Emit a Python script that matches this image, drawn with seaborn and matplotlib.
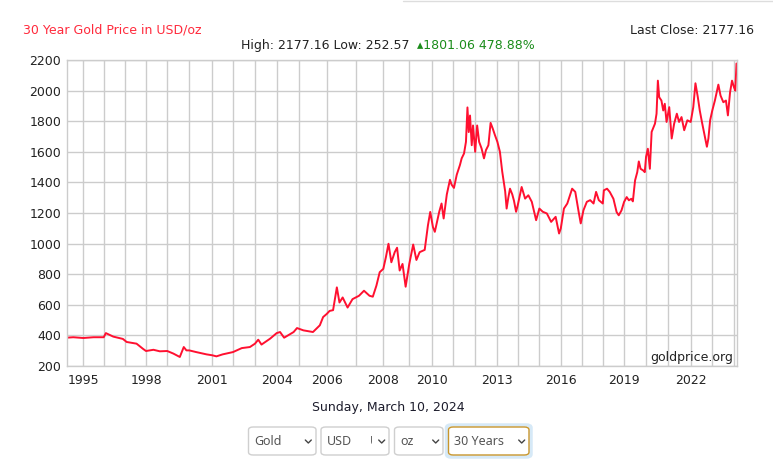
#!/usr/bin/env python3
"""30 year gold price chart (goldprice.org style)."""

import matplotlib
matplotlib.use("Agg")
import matplotlib.pyplot as plt
from matplotlib.lines import Line2D
from matplotlib.patches import FancyBboxPatch, Rectangle
import numpy as np
import pandas as pd
import seaborn as sns

# ---- data ----
first_year = 1994
start_date = 1994.19   # Mar 10 1994
end_date = 2024.19     # Mar 10 2024

# observations per calendar year in the source feed (sets the x spacing)
points_per_year = [197, 242, 252, 249, 252, 261, 273, 245, 261, 257,
                   268, 325, 344, 327, 308, 273, 249, 254, 261, 249,
                   256, 254, 249, 249, 252, 261, 264, 265, 256, 257, 30]

dates = [
    1994.19, 1994.51, 1995.0, 1995.5, 1996.0, 1996.1, 1996.45, 1996.9, 1997.08, 1997.55,
    1997.85, 1998.0, 1998.35, 1998.65, 1999.0, 1999.28, 1999.57, 1999.75, 1999.87, 2000.0,
    2000.3, 2000.75, 2001.0, 2001.2, 2001.5, 2002.0, 2002.4, 2002.77, 2003.0, 2003.15,
    2003.3, 2003.7, 2004.0, 2004.15, 2004.33, 2004.75, 2004.9, 2005.15, 2005.5, 2005.75,
    2005.87, 2006.0, 2006.1, 2006.22, 2006.35, 2006.44, 2006.55, 2006.72, 2006.89, 2007.12,
    2007.3, 2007.5, 2007.62, 2007.75, 2007.87, 2008.0, 2008.1, 2008.2, 2008.31, 2008.44,
    2008.53, 2008.63, 2008.74, 2008.86, 2009.0, 2009.17, 2009.31, 2009.45, 2009.67, 2009.81,
    2009.91, 2010.03, 2010.12, 2010.33, 2010.44, 2010.54, 2010.69, 2010.84, 2010.92, 2011.03,
    2011.16, 2011.31, 2011.39, 2011.5, 2011.59, 2011.66, 2011.72, 2011.78, 2011.86, 2011.92,
    2012.02, 2012.11, 2012.2, 2012.31, 2012.42, 2012.51, 2012.62, 2012.72, 2012.82, 2012.92,
    2013.03, 2013.15, 2013.26, 2013.34, 2013.4, 2013.47, 2013.55, 2013.63, 2013.74, 2013.82,
    2013.92, 2014.0, 2014.18, 2014.34, 2014.49, 2014.65, 2014.85, 2015.0, 2015.16, 2015.35,
    2015.55, 2015.76, 2015.92, 2016.0, 2016.15, 2016.31, 2016.54, 2016.69, 2016.85, 2016.95,
    2017.08, 2017.24, 2017.4, 2017.56, 2017.68, 2017.81, 2018.0, 2018.05, 2018.2, 2018.33,
    2018.5, 2018.65, 2018.75, 2018.88, 2019.0, 2019.12, 2019.22, 2019.33, 2019.4, 2019.5,
    2019.6, 2019.67, 2019.75, 2019.87, 2019.94, 2020.0, 2020.08, 2020.17, 2020.25, 2020.4,
    2020.47, 2020.53, 2020.59, 2020.69, 2020.77, 2020.84, 2020.92, 2021.04, 2021.15, 2021.26,
    2021.38, 2021.48, 2021.59, 2021.71, 2021.85, 2022.0, 2022.12, 2022.22, 2022.33, 2022.42,
    2022.52, 2022.63, 2022.75, 2022.82, 2022.9, 2023.0, 2023.12, 2023.28, 2023.38, 2023.51,
    2023.63, 2023.72, 2023.82, 2023.91, 2024.0, 2024.1, 2024.19,
]
prices = [
    385, 388, 383, 388, 388, 415, 392, 377, 357, 346,
    313, 298, 306, 296, 298, 281, 259, 324, 302, 302,
    291, 276, 270, 263, 276, 291, 317, 324, 346, 372,
    340, 379, 415, 422, 385, 422, 448, 433, 422, 466,
    520, 540, 560, 565, 714, 615, 648, 582, 637, 659,
    692, 659, 653, 725, 813, 835, 911, 999, 878, 944,
    973, 824, 867, 718, 867, 994, 893, 944, 959, 1119,
    1207, 1108, 1077, 1208, 1262, 1164, 1321, 1417, 1385, 1364,
    1450, 1514, 1557, 1589, 1665, 1890, 1729, 1837, 1643, 1772,
    1600, 1772, 1665, 1622, 1557, 1611, 1643, 1789, 1751, 1708,
    1665, 1600, 1471, 1396, 1342, 1229, 1300, 1359, 1321, 1280,
    1208, 1251, 1370, 1294, 1316, 1273, 1153, 1229, 1208, 1197,
    1142, 1175, 1066, 1099, 1229, 1262, 1359, 1338, 1208, 1132,
    1218, 1273, 1284, 1262, 1338, 1284, 1262, 1348, 1359, 1337,
    1293, 1206, 1185, 1217, 1272, 1304, 1283, 1293, 1276, 1413,
    1467, 1537, 1489, 1478, 1467, 1568, 1620, 1489, 1730, 1784,
    1849, 2065, 1957, 1935, 1870, 1914, 1795, 1892, 1687, 1784,
    1849, 1795, 1827, 1741, 1806, 1795, 1892, 2048, 1957, 1870,
    1795, 1719, 1633, 1687, 1806, 1870, 1935, 2039, 1968, 1924,
    1935, 1838, 1989, 2065, 2022, 2000, 2177.16,
]

labeled_years = [1995, 1998, 2001, 2004, 2006, 2008, 2010, 2013, 2016, 2019, 2022]
y_ticks = list(range(200, 2201, 200))

title = "30 Year Gold Price in USD/oz"
stats_plain = "High: 2177.16 Low: 252.57 "
stats_change = "\u25b41801.06 478.88%"
last_close = "Last Close: 2177.16"
date_label = "Sunday, March 10, 2024"
watermark = "goldprice.org"

W, H = 773, 474
LINE_RED = "#ff1030"
GRID = "#cccccc"


def fx(px):
    return px / W


def fy(py):
    return 1 - py / H


def chart_x(values):
    """Map decimal years to the chart's observation index."""
    cum = np.concatenate([[0], np.cumsum(points_per_year)])
    out = []
    for d in values:
        yr = int(np.clip(np.floor(d), first_year, first_year + len(points_per_year) - 1))
        i = yr - first_year
        s = max(yr, start_date)
        e = min(yr + 1, end_date)
        out.append(cum[i] + (d - s) / (e - s) * points_per_year[i])
    return np.array(out), cum


def draw_select(fig, x0, x1, label, chevron_x, focus=False, clip_char=None):
    y0, y1 = 427, 455
    if focus:
        glow = FancyBboxPatch((fx(x0 - 2), fy(y1 + 2)), fx(x1 - x0 + 4), (y1 - y0 + 4) / H,
                              boxstyle="round,pad=0,rounding_size=0.006",
                              transform=fig.transFigure, facecolor="none",
                              edgecolor="#d6e9f7", linewidth=2.5)
        fig.patches.append(glow)
    edge = "#c8962c" if focus else "#cfcfcf"
    box = FancyBboxPatch((fx(x0), fy(y1)), fx(x1 - x0), (y1 - y0) / H,
                         boxstyle="round,pad=0,rounding_size=0.006",
                         transform=fig.transFigure, facecolor="white",
                         edgecolor=edge, linewidth=1.0)
    fig.patches.append(box)
    fig.text(fx(x0 + 6), fy(441.5), label, ha="left", va="center",
             fontsize=9, color="#555555", family="Noto Sans")
    if clip_char is not None:
        cx, ch = clip_char
        fig.text(fx(cx), fy(441.5), ch, ha="left", va="center",
                 fontsize=9, color="#555555", family="Noto Sans", zorder=3)
        fig.patches.append(Rectangle((fx(cx + 2.5), fy(450)), fx(8), 16 / H,
                                     transform=fig.transFigure, facecolor="white",
                                     edgecolor="none", zorder=4))
    fig.lines.append(Line2D([fx(chevron_x - 3), fx(chevron_x), fx(chevron_x + 3)],
                            [fy(440), fy(443), fy(440)], transform=fig.transFigure,
                            color="#444444", linewidth=1.0, zorder=5))


def main():
    sns.set_theme(style="whitegrid")
    plt.rcParams["font.family"] = ["DejaVu Sans"]

    xs, cum = chart_x(dates)
    df = pd.DataFrame({"x": xs, "price": prices})

    fig = plt.figure(figsize=(W / 100, H / 100), dpi=100, facecolor="white")
    ax = fig.add_axes([fx(66.7), fy(366), fx(736.5 - 66.7), (366 - 60) / H])
    ax.set_facecolor("white")

    sns.lineplot(data=df, x="x", y="price", color=LINE_RED, linewidth=1.4, ax=ax)

    years = list(range(first_year + 1, int(end_date) + 1))
    ax.set_xticks([cum[y - first_year] for y in years])
    ax.set_xticklabels([str(y) if y in labeled_years else "" for y in years])
    ax.set_yticks(y_ticks)
    ax.set_xlim(0, cum[-1])
    ax.set_ylim(200, 2200)
    ax.set_xlabel("")
    ax.set_ylabel("")
    ax.grid(True, color=GRID, linewidth=1.0)
    ax.tick_params(axis="both", length=0, labelsize=9, labelcolor="#222222")
    ax.tick_params(axis="x", pad=6)
    ax.tick_params(axis="y", pad=4)
    for sp in ax.spines.values():
        sp.set_color(GRID)
        sp.set_linewidth(1.0)

    fig.text(fx(733), fy(358), watermark, ha="right", va="center",
             fontsize=9, color="#222222")

    fig.text(fx(23), fy(30), title, ha="left", va="center", fontsize=9, color="#ff2a3c")
    fig.text(fx(754), fy(30), last_close, ha="right", va="center", fontsize=9, color="#222222")
    fig.text(fx(241), fy(45), stats_plain, ha="left", va="center", fontsize=9, color="#222222")
    fig.text(fx(535), fy(45), stats_change, ha="right", va="center", fontsize=9, color="#1a8c1a")
    fig.text(fx(388), fy(407), date_label, ha="center", va="center", fontsize=9, color="#1c1c2c")

    fig.lines.append(Line2D([fx(403), fx(773)], [fy(0.5), fy(0.5)], transform=fig.transFigure,
                            color="#dddddd", linewidth=1.0))

    draw_select(fig, 248.5, 316, "Gold", 308.3)
    draw_select(fig, 321, 389, "USD", 381.7, clip_char=(369.5, "U"))
    draw_select(fig, 394.5, 443, "oz", 435.7)
    draw_select(fig, 448.5, 529, "30 Years", 521.7, focus=True)

    fig.savefig("out.png", dpi=100, facecolor="white")
    plt.close(fig)


if __name__ == "__main__":
    main()
